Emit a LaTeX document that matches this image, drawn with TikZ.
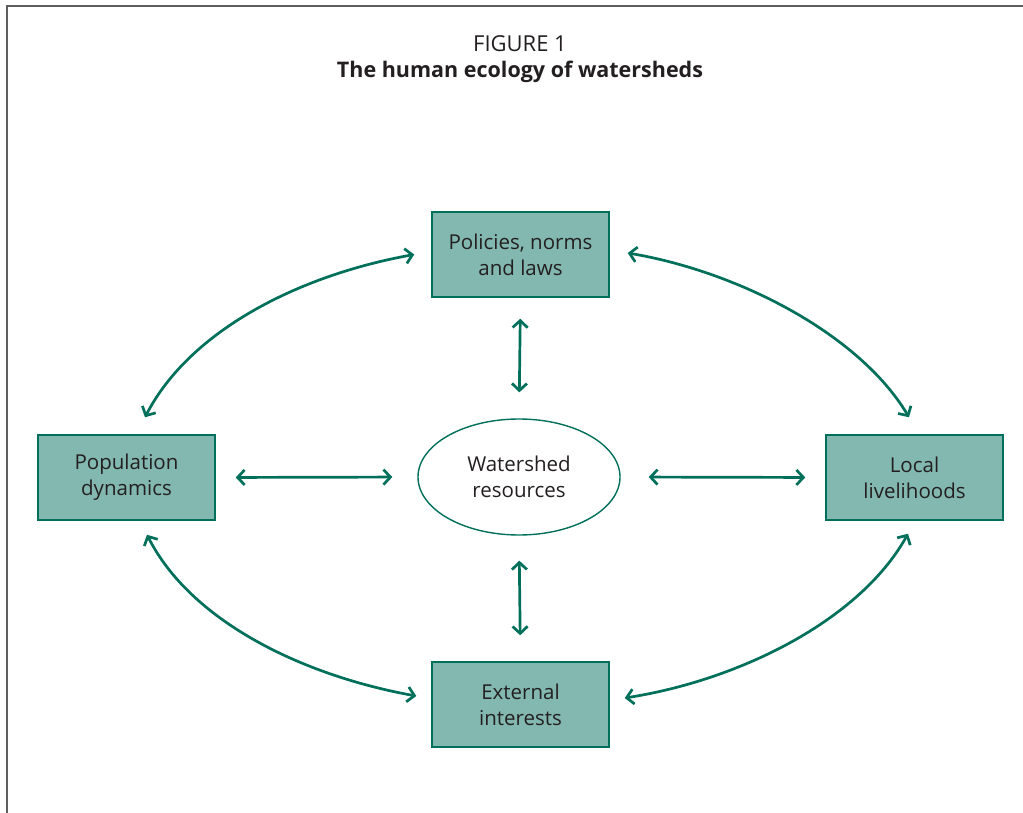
\documentclass[tikz,border=0pt]{standalone}
\usepackage{fontspec}
\setmainfont{Open Sans}
\usetikzlibrary{shapes.geometric,arrows.meta,calc}
\definecolor{teal}{HTML}{00705A}
\definecolor{boxfill}{HTML}{82B8B0}
\definecolor{txt}{HTML}{231F20}
\definecolor{frame}{HTML}{5E5E5E}
\tikzset{
  box/.style={draw=teal,fill=boxfill,line width=1.5pt,minimum width=177pt,minimum height=85pt,inner sep=0pt,align=center,text=txt,font=\fontsize{20.5}{26}\selectfont},
  res/.style={draw=teal,ellipse,line width=1.4pt,minimum width=202pt,minimum height=116pt,inner sep=0pt,align=center,text=txt,font=\fontsize{20.5}{26}\selectfont},
  link/.style={draw=teal,line width=2.7pt,{Straight Barb[length=7pt,width=15pt]}-{Straight Barb[length=7pt,width=15pt]}},
}
\begin{document}
\begin{tikzpicture}[x=1pt,y=-1pt]
\useasboundingbox (0,0) rectangle (1023,813);
\draw[frame,line width=2pt] (6.5,813) -- (6.5,6.5) -- (1023,6.5);
\node[text=txt,font=\fontsize{22}{24}\selectfont] (fig) at (520,44) {FIGURE 1};
\node[text=txt,font=\fontsize{21.5}{24}\selectfont\bfseries] (ttl) at (520,72) {The human ecology of watersheds};
\node[box] (pol) at (520.5,254.5) {Policies, norms\\and laws};
\node[box] (pop) at (126.5,477.5) {Population\\dynamics};
\node[box] (loc) at (914.5,477.5) {Local\\livelihoods};
\node[box] (ext) at (520.5,704.5) {External\\interests};
\node[res] (wat) at (519,477) {Watershed\\resources};
% straight links
\draw[link,shorten <=21pt,shorten >=26pt] (pol.south) -- (wat.north);
\draw[link,shorten <=25pt,shorten >=26pt] (wat.south) -- (ext.north);
\draw[link,shorten <=20pt,shorten >=25pt] (pop.east) -- (wat.west);
\draw[link,shorten <=28pt,shorten >=20pt] (wat.east) -- (loc.west);
% curved links
\draw[link] ([xshift=18.5pt,yshift=17pt]pop.north) .. controls (190,330) and (300,275) .. ([xshift=-17pt]pol.west);
\draw[link] ([xshift=18pt,yshift=1.5pt]pol.east) .. controls (740,272) and (860,335) .. ([xshift=-5.5pt,yshift=17pt]loc.north);
\draw[link] ([xshift=20.5pt,yshift=-14pt]pop.south) .. controls (190,620) and (300,675) .. ([xshift=-15pt,yshift=8.5pt]ext.west);
\draw[link] ([xshift=-6.5pt,yshift=-13pt]loc.south) .. controls (860,620) and (740,680) .. ([xshift=15pt,yshift=6.5pt]ext.east);
\end{tikzpicture}
\end{document}
